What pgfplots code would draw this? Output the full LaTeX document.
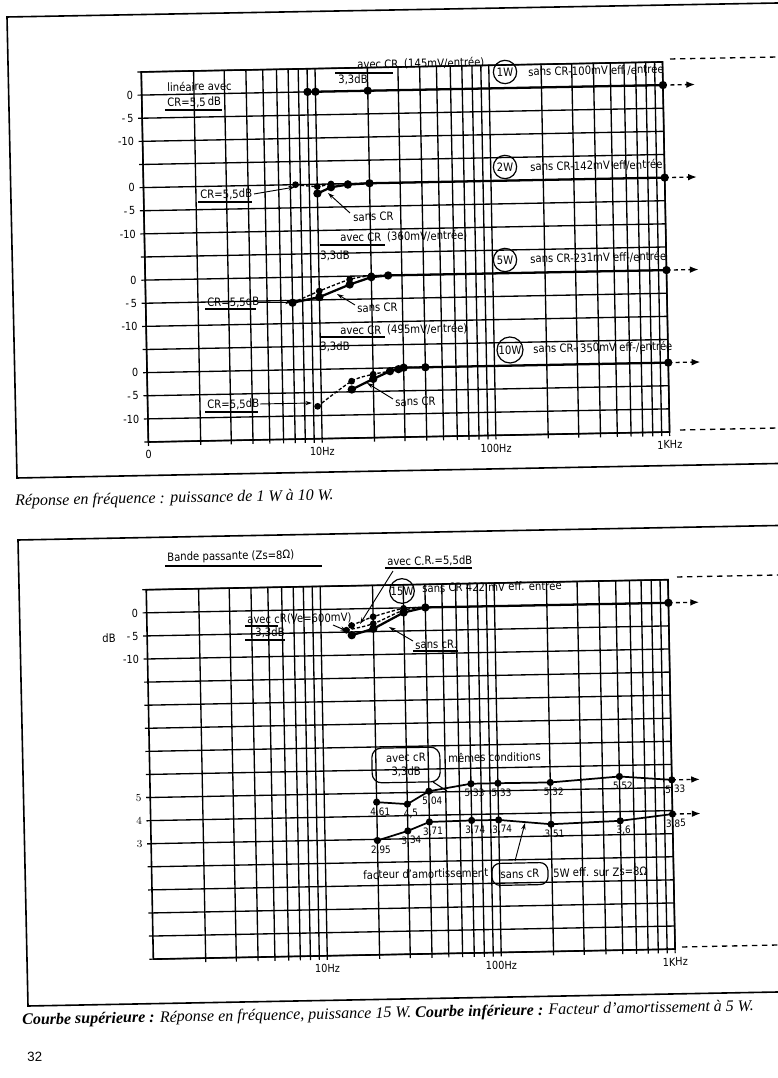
\documentclass[border=0pt]{standalone}
\usepackage{fontspec}
\setmainfont{Liberation Serif}
\newfontfamily\lab[FakeStretch=0.88]{DejaVu Sans}
\newfontfamily\pnum{Liberation Sans}
\usepackage{pgfplots}
\usepackage{pgfplotstable}
\pgfplotsset{compat=1.18}
\usetikzlibrary{arrows.meta}

% ---------- data (frequency in Hz, level in dB) ----------
\pgfplotstableread{
f dB
9 0
10 0
20 0
1000 0
}\tOneW
\pgfplotstableread{
f dB
7.5 0
10 -0.5
12 0
15 0
20 0
}\tTwoA
\pgfplotstableread{
f dB
10 -2
12 -0.7
15 -0.2
20 0
1000 0
}\tTwoS
\pgfplotstableread{
f dB
7 -5.5
10 -3.1
15 -0.7
20 0
25 0
}\tFiveA
\pgfplotstableread{
f dB
7 -5.5
10 -4.4
15 -1.8
20 -0.3
25 0
1000 0
}\tFiveS
\pgfplotstableread{
f dB
9.5 -8
15 -2.7
20 -1.3
25 -0.7
30 0
40 0
}\tTenA
\pgfplotstableread{
f dB
15 -4.5
20 -2.3
25 -0.7
28 -0.3
30 0
40 0
1000 0
}\tTenS
\pgfplotstableread{
f dB
15 -3.6
20 -1.8
30 -0.1
40 0
}\tFifA
\pgfplotstableread{
f dB
14 -4.6
20 -3.3
30 -0.5
40 0
}\tFifB
\pgfplotstableread{
f dB
15 -5.7
20 -4.4
30 -1
40 0
1000 0
}\tFifS
% damping factor at 5 W
\pgfplotstableread{
f D
20 4.61
30 4.5
40 5.04
70 5.33
100 5.33
200 5.32
500 5.52
1000 5.33
}\tDampA
\pgfplotstableread{
f D
20 2.95
30 3.34
40 3.71
70 3.74
100 3.74
200 3.51
500 3.6
1000 3.85
}\tDampS

\tikzset{
  sans/.style={black, line width=1.7pt, mark=*, mark size=2.2pt},
  avec/.style={black, line width=1pt, dash pattern=on 2.5pt off 1.5pt, mark=*, mark size=2pt, mark options={solid}},
  arr/.style={black, line width=1pt, dash pattern=on 3pt off 2.5pt, -{Latex[length=6.5pt,width=5pt]}},
}

\begin{document}
\begin{tikzpicture}
\path[use as bounding box] (0,0) rectangle (583.5pt,808.5pt);

\begin{scope}[transform canvas={rotate around={1.1:(291.75pt,404.25pt)}}]
% ---------------- upper chart ----------------
\begin{axis}[scale only axis, anchor=south west, at={(112.7pt,480.45pt)}, width=391pt, height=277.6pt,
  xmode=log, xmin=1, xmax=1000, ymin=-75, ymax=5, clip=false,
  axis line style={line width=1.2pt},
  grid=both,
  major grid style={black,line width=1pt},
  minor grid style={black,line width=1pt},
  tick style={black,line width=0.9pt},
  tick align=outside, major tick length=3pt, minor tick length=3pt,
  tick pos=left,
  minor xtick={2,3,4,5,6,7,8,9,20,30,40,50,60,70,80,90,200,300,400,500,600,700,800,900},
  ticklabel style={font=\lab\fontsize{8.3}{9}\selectfont},
  xtick={1,10,100,1000}, xticklabels={0,10Hz,100Hz,1KHz},
  ytick={0,-5,-10,-20,-25,-30,-40,-45,-50,-60,-65,-70},
  yticklabels={0,-\,5,-10,0,-\,5,-10,0,-\,5,-10,0,-\,5,-10},
  minor ytick={5,-15,-35,-55,-75}]
 \addplot[sans] table[x=f, y=dB] {\tOneW};
 \addplot[avec, smooth] table[x=f, y expr=\thisrow{dB}-20] {\tTwoA};
 \addplot[sans] table[x=f, y expr=\thisrow{dB}-20] {\tTwoS};
 \addplot[avec, smooth] table[x=f, y expr=\thisrow{dB}-40] {\tFiveA};
 \addplot[sans] table[x=f, y expr=\thisrow{dB}-40] {\tFiveS};
 \addplot[avec, smooth] table[x=f, y expr=\thisrow{dB}-60] {\tTenA};
 \addplot[sans] table[x=f, y expr=\thisrow{dB}-60] {\tTenS};
 \addplot[arr] coordinates {(1000,0) (1530,0)};
 \addplot[arr] coordinates {(1000,-20) (1530,-20)};
 \addplot[arr] coordinates {(1000,-40) (1530,-40)};
 \addplot[arr] coordinates {(1000,-60) (1530,-60)};
\end{axis}

% ---------------- lower chart: 15 W response ----------------
\begin{axis}[scale only axis, anchor=south west, at={(108.98pt,92.6pt)}, width=391.4pt, height=277.1pt,
  xmode=log, xmin=1, xmax=1000, ymin=-75, ymax=5, clip=false,
  axis line style={line width=1.2pt},
  grid=both,
  major grid style={black,line width=1pt},
  minor grid style={black,line width=1pt},
  tick style={black,line width=0.9pt},
  tick align=outside, major tick length=3pt, minor tick length=3pt,
  tick pos=left,
  minor xtick={2,3,4,5,6,7,8,9,20,30,40,50,60,70,80,90,200,300,400,500,600,700,800,900},
  ticklabel style={font=\lab\fontsize{8.3}{9}\selectfont},
  xtick={10,100,1000}, xticklabels={10Hz,100Hz,1KHz},
  ytick={0,-5,-10}, yticklabels={0,-\,5,-10},
  minor ytick={5,-15,-20,-25,-30,-35,-40,-45,-50,-55,-60,-65,-70,-75}]
 \addplot[avec, smooth] table[x=f, y=dB] {\tFifA};
 \addplot[avec, smooth] table[x=f, y=dB] {\tFifB};
 \addplot[sans] table[x=f, y=dB] {\tFifS};
 \addplot[arr] coordinates {(1000,0) (1500,0)};
\end{axis}

% ---------------- lower chart: damping factor ----------------
\begin{axis}[scale only axis, anchor=south west, at={(108.98pt,92.6pt)}, width=391.4pt, height=277.1pt,
  xmode=log, xmin=1, xmax=1000, ymin=-2, ymax=14, clip=false,
  hide x axis, axis y line*=left, y axis line style={draw=none},
  ytick={3,4,5}, tick align=outside, major tick length=3pt,
  tick style={black,line width=0.9pt},
  ticklabel style={font=\lab\fontsize{8.3}{9}\selectfont},
  nodes near coords={\pgfmathprintnumber[use comma,assume math mode=true]{\pgfplotspointmeta}},
  every node near coord/.append style={font=\lab\fontsize{7.6}{8}\selectfont, anchor=north, xshift=2.5pt, yshift=-2.5pt, inner sep=1pt}]
 \addplot[black, line width=1.3pt, mark=*, mark size=2pt, point meta=y] table[x=f, y=D] {\tDampA};
 \addplot[black, line width=1.3pt, mark=*, mark size=2pt, point meta=y] table[x=f, y=D] {\tDampS};
 \addplot[arr, nodes near coords={}] coordinates {(1000,5.33) (1450,5.33)};
 \addplot[arr, nodes near coords={}] coordinates {(1000,3.85) (1450,3.85)};
\end{axis}
\end{scope}

% ---------------- annotations (page pixel coordinates) ----------------
\begin{scope}[x=0.75pt,y=-0.75pt,shift={(0pt,808.5pt)},
  every node/.style={rotate=1.1, inner sep=0pt, font=\lab\fontsize{8.6}{10}\selectfont},
  ln/.style={line width=0.8pt},
  ar/.style={line width=0.7pt, -{Stealth[length=5pt,width=3.2pt]}}]
 % frames
 \draw[line width=1.2pt] (778,3) -- (7,17) -- (17,478) -- (778,463.5);
 \draw[line width=1.2pt] (778,525.5) -- (18,540) -- (28,1006) -- (778,992);
 \draw[line width=1pt, dash pattern=on 4pt off 3.5pt] (670,59) -- (778,57);
 \draw[line width=1pt, dash pattern=on 4pt off 3.5pt] (680,430) -- (778,428);
 \draw[line width=1pt, dash pattern=on 4pt off 3.5pt] (677,577) -- (778,575);
 \draw[line width=1pt, dash pattern=on 4pt off 3.5pt] (682,947) -- (778,945);

 % 1 W
 \node[anchor=west] at (167,87) {linéaire avec};
 \node[anchor=west] at (167,103) {CR=5,5\,dB};
 \draw[ln] (165,110) -- (222,110);
 \node[anchor=west] at (357,65) {avec CR\enspace(145mV/entrée)};
 \draw[ln] (335,73) -- (393,73);
 \node[anchor=west] at (338,80) {3,3dB};
 \node[draw,circle,minimum size=17.5pt,line width=0.9pt] at (505,72) {1W};
 \node[anchor=west] at (528,72) {sans CR-100mV eff /entrée};
 % 2 W
 \node[draw,circle,minimum size=17.5pt,line width=0.9pt] at (505,167) {2W};
 \node[anchor=west] at (530,167) {sans CR-142mV eff/entrée};
 \node[anchor=west] at (200,195) {CR=5,5dB};
 \draw[ln] (198,202) -- (252,202);
 \draw[ar] (254,194) -- (295,187);
 \node[anchor=west] at (353,217) {sans CR};
 \draw[ar] (350,213) -- (328,193);
 % 5 W
 \node[anchor=west] at (340,238) {avec CR\enspace(360mV/entrée)};
 \draw[ln] (320,245) -- (385,245);
 \node[anchor=west] at (320,256) {3,3dB};
 \node[draw,circle,minimum size=17.5pt,line width=0.9pt] at (505,260) {5W};
 \node[anchor=west] at (530,259) {sans CR-231mV eff-/entrée};
 \node[anchor=west] at (207,303) {CR=5,5dB};
 \draw[ln] (205,309) -- (256,309);
 \draw[ar] (258,302) -- (292,302);
 \node[anchor=west] at (357,308) {sans CR};
 \draw[ar] (355,305) -- (337,294);
 % 10 W
 \node[anchor=west] at (340,331) {avec CR\enspace(495mV/entrée)};
 \draw[ln] (320,337) -- (385,337);
 \node[anchor=west] at (320,347) {3,3dB};
 \node[draw,circle,minimum size=19.5pt,line width=0.9pt] at (510,350) {10W};
 \node[anchor=west] at (533,349) {sans CR- 350mV eff-/entrée};
 \node[anchor=west] at (207,405) {CR=5,5dB};
 \draw[ln] (205,412) -- (258,412);
 \draw[ar] (260,404) -- (312,403);
 \node[anchor=west] at (395,402) {sans CR};
 \draw[ar] (393,399) -- (367,383);

 % caption 1
 \node[anchor=west, font=\itshape\fontsize{12}{14}\selectfont] at (15,502) {Réponse en fréquence : puissance de 1 W à 10 W.};

 % 15 W
 \node[anchor=west] at (167,558) {Bande passante (Zs=8Ω)};
 \draw[ln] (165,566) -- (322,566);
 \node[anchor=west] at (387,562) {avec C.R.=5,5dB};
 \draw[ln] (385,568) -- (472,568);
 \draw[ar] (393,571) -- (360,624);
 \node[draw,circle,minimum size=18.5pt,line width=0.9pt] at (402,591) {15W};
 \node[anchor=west] at (422,588) {sans CR 422 mV eff. entrée};
 \node[anchor=west] at (247,620) {avec cR(Ve=600mV)};
 \draw[ln] (245,626) -- (278,626);
 \node[anchor=west] at (255,633) {3,3dB};
 \draw[ln] (245,640) -- (285,640);
 \draw[ar] (333,625) -- (347,631);
 \node[anchor=west] at (415,645) {sans cR.};
 \draw[ln] (413,651) -- (458,651);
 \draw[ar] (413,641) -- (389,627);
 \node[anchor=east] at (116,638) {dB};

 % damping
 \node[draw, rounded corners=7pt, minimum width=51pt, minimum height=26pt, align=center, line width=0.9pt] at (406,765) {avec cR\\3,3dB};
 \draw[ln] (433,782) -- (447,791);
 \node[anchor=west] at (448,758) {mêmes conditions};
 \node[anchor=west] at (363,875) {facteur d’amortissement};
 \node[draw, rounded corners=6pt, minimum width=42pt, minimum height=16.5pt, line width=0.9pt] at (520,874) {sans cR};
 \node[anchor=west] at (553,873) {5W eff. sur Zs=8Ω};
 \draw[ar] (515,861) -- (525,823);

 % caption 2 and page number
 \node[anchor=west, font=\itshape\fontsize{12}{14}\selectfont] at (22,1021) {\textbf{Courbe supérieure :} Réponse en fréquence, puissance 15 W. \textbf{Courbe inférieure :} Facteur d’amortissement à 5 W.};
 \node[anchor=west, font=\pnum\fontsize{10}{12}\selectfont] at (27,1057) {32};
\end{scope}
\end{tikzpicture}
\end{document}
